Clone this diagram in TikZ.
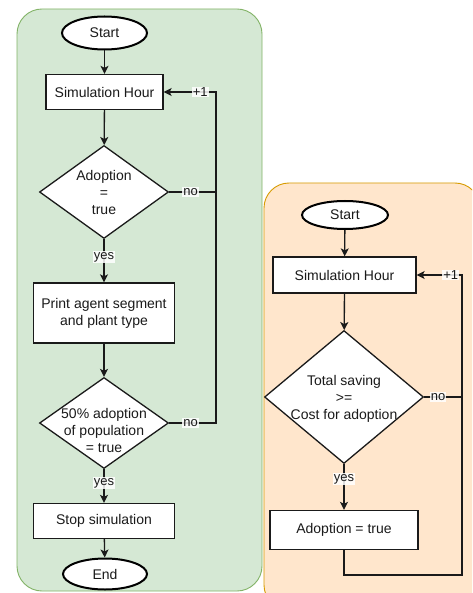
\documentclass[tikz,border=0pt]{standalone}
\usepackage{fontspec}
\setmainfont{Liberation Sans}
\usetikzlibrary{shapes.geometric,arrows.meta}
\definecolor{txt}{HTML}{1A1A1A}
\definecolor{gfill}{HTML}{D5E8D4}
\definecolor{gline}{HTML}{82B366}
\definecolor{ofill}{HTML}{FFE6CC}
\definecolor{oline}{HTML}{D79B00}
\tikzset{
  every node/.style={text=txt},
  panel/.style={rounded corners=25pt, line width=0.9pt},
  stepbox/.style={draw=txt, fill=white, line width=1.3pt, inner sep=0pt, align=center, font=\fontsize{14}{17}\selectfont},
  decision/.style={diamond, draw=txt, fill=white, line width=1.3pt, inner sep=0pt},
  dtext/.style={align=center, font=\fontsize{14}{17}\selectfont},
  terminal/.style={ellipse, draw=black, fill=white, line width=2pt, inner sep=0pt, font=\fontsize{14}{17}\selectfont},
  conn/.style={draw=txt, line width=1.3pt},
  arr/.style={conn, -{Stealth[length=8pt,width=8pt,inset=2pt]}},
  lbl/.style={fill=white, fill opacity=0.85, text opacity=1, inner sep=1pt, font=\fontsize{13}{15}\selectfont}
}
\begin{document}
\begin{tikzpicture}[x=1pt,y=-1pt]
\useasboundingbox (0,0) rectangle (472,593);
\fill[white] (0,0) rectangle (472,593);
\begin{scope}
\clip (0,0) rectangle (472,593);
\draw[panel, fill=gfill, draw=gline] (17,9) rectangle (262,591);
\draw[panel, fill=ofill, draw=oline] (264,183) rectangle (480,610);
\end{scope}

% left flowchart
\node[terminal, minimum width=85pt, minimum height=33pt] (start1) at (104.5,33) {Start};
\node[stepbox, minimum width=117pt, minimum height=35pt] (hour1) at (104.5,92) {Simulation Hour};
\node[decision, minimum width=129pt, minimum height=93pt] (d1) at (104,192) {};
\node[dtext] (d1t) at (d1.center) {Adoption\\=\\true};
\node[stepbox, minimum width=141pt, minimum height=60pt] (print) at (104,313) {Print agent segment\\and plant type};
\node[decision, minimum width=129pt, minimum height=91pt] (d2) at (104,423) {};
\node[dtext] (d2t) at ([yshift=-7pt]d2.center) {50\% adoption\\of population\\= true};
\node[stepbox, minimum width=141pt, minimum height=35pt] (stop) at (104,521) {Stop simulation};
\node[terminal, minimum width=84pt, minimum height=31pt] (end) at (105,574) {End};

\coordinate (c1) at (216,192);
\coordinate (c2) at (216,92);

\draw[arr] (start1) -- (hour1);
\draw[arr] (hour1) -- (d1);
\draw[arr] (d1) -- node[lbl, pos=0.42] {yes} (print);
\draw[arr] (print) -- (d2);
\draw[arr] (d2) -- node[lbl, pos=0.41] {yes} (stop);
\draw[arr] (stop) -- (end);
\draw[conn] (d1.east) -- node[lbl, pos=0.46] {no} (c1);
\draw[arr] (d2.east) -- node[lbl, pos=0.46] {no} (d2.east -| c2) -- (c2) -- node[lbl, pos=0.3] {+1} (hour1.east);

% right flowchart
\node[terminal, minimum width=86pt, minimum height=28pt] (start2) at (345,215) {Start};
\node[stepbox, minimum width=143pt, minimum height=36pt] (hour2) at (344.5,275) {Simulation Hour};
\node[decision, minimum width=159pt, minimum height=133pt] (d3) at (344,397) {};
\node[dtext] (d3t) at ([yshift=-2pt]d3.center) {Total saving\\>=\\Cost for adoption};
\node[stepbox, minimum width=148pt, minimum height=39pt] (adopt) at (344,530) {Adoption = true};

\coordinate (c3) at (462,275);
\coordinate (c4) at (462,575);

\draw[arr] (start2) -- (hour2);
\draw[arr] (hour2) -- (d3);
\draw[arr] (d3) -- node[lbl, pos=0.33] {yes} (adopt);
\draw[conn] (d3.east) -- node[lbl, pos=0.37] {no} (d3.east -| c3);
\draw[arr] (adopt.south) -- (adopt.south |- c4) -- (c4) -- (c3) -- node[lbl, pos=0.25] {+1} (hour2.east);
\end{tikzpicture}
\end{document}
